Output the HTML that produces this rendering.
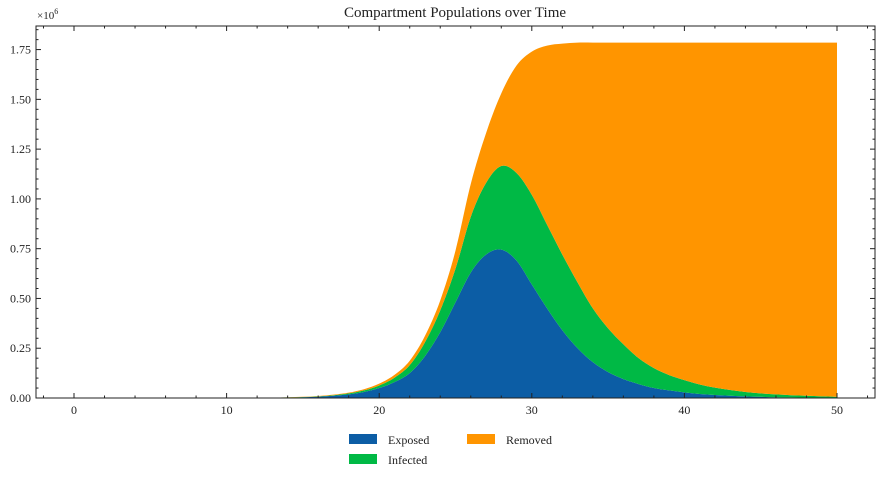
<!DOCTYPE html>
<html><head><meta charset="utf-8"><style>
body{margin:0;background:#fff}
svg text{font-family:"Liberation Serif",serif;fill:#222}
</style></head><body>
<svg id="c" width="880" height="477" xmlns="http://www.w3.org/2000/svg"></svg>
<script>
const times=[];for(let t=0;t<=50;t++)times.push(t);
const exposed=[0,0,0,0,0,0,0,0,0,0,0,0,0,0.001,0.002,0.004,0.006,0.011,0.018,0.03,0.05,0.08,0.125,0.21,0.33,0.48,0.63,0.72,0.745,0.69,0.57,0.45,0.34,0.25,0.18,0.13,0.095,0.07,0.05,0.038,0.028,0.02,0.015,0.011,0.008,0.006,0.004,0.003,0.002,0.0015,0.001];
const infected=[0,0,0,0,0,0,0,0,0,0,0,0,0,0.0005,0.001,0.001,0.002,0.003,0.005,0.008,0.013,0.022,0.04,0.07,0.11,0.17,0.28,0.36,0.42,0.44,0.45,0.42,0.38,0.33,0.27,0.22,0.175,0.13,0.1,0.077,0.062,0.048,0.037,0.029,0.022,0.017,0.014,0.011,0.009,0.0065,0.005];
const removed=[0,0,0,0,0,0,0,0,0,0,0,0,0,0.0005,0.001,0.001,0.002,0.003,0.004,0.006,0.009,0.014,0.022,0.032,0.05,0.09,0.165,0.25,0.365,0.54,0.72,0.9,1.06,1.205,1.335,1.435,1.515,1.585,1.635,1.67,1.695,1.717,1.733,1.745,1.755,1.762,1.767,1.771,1.774,1.777,1.779];
const xTicks=[0,10,20,30,40,50];
const yTicks=[0,0.25,0.5,0.75,1.0,1.25,1.5,1.75];
const L=36,R=875,T=26,B=398;
const xs=v=>74+v*15.26, ys=v=>398-v*199.1;
const svg=document.getElementById('c');const NS='http://www.w3.org/2000/svg';
function mk(tag,a,p){const e=document.createElementNS(NS,tag);for(const k in a)e.setAttribute(k,a[k]);(p||svg).appendChild(e);return e;}
function smooth(pts){let d='';for(let i=0;i<pts.length-1;i++){const p0=pts[Math.max(i-1,0)],p1=pts[i],p2=pts[i+1],p3=pts[Math.min(i+2,pts.length-1)];
 const c1=[p1[0]+(p2[0]-p0[0])/6,p1[1]+(p2[1]-p0[1])/6],c2=[p2[0]-(p3[0]-p1[0])/6,p2[1]-(p3[1]-p1[1])/6];
 d+='C'+c1.join(',')+' '+c2.join(',')+' '+p2.join(',');}return d;}
const series=[exposed,infected,removed],cols=['#0c5da5','#00b945','#ff9500'],names=['area-exposed','area-infected','area-removed'];
let base=times.map(()=>0);
series.forEach((s,i)=>{const top=base.map((b,j)=>b+s[j]);
 const tp=times.map((t,j)=>[xs(t),ys(top[j])]);
 const bp=times.map((t,j)=>[xs(t),ys(base[j])]).reverse();
 const d='M'+tp[0].join(',')+smooth(tp)+'L'+bp[0].join(',')+smooth(bp)+'Z';
 const p=mk('path',{d:d,fill:cols[i]});
 
 
 base=top;});
mk('rect',{x:L,y:T,width:R-L,height:B-T,fill:'none',stroke:'#222','stroke-width':1,});
for(let v=-2;v<=52;v+=2){const x=xs(v);if(x<L||x>R)continue;const len=v%10==0?5:2.5;
 mk('line',{x1:x,x2:x,y1:B,y2:B-len,stroke:'#222'});mk('line',{x1:x,x2:x,y1:T,y2:T+len,stroke:'#222'});}
for(let v=0;v<=1.86;v+=0.05){const y=ys(v);const len=Math.abs(v/0.25-Math.round(v/0.25))<0.01?5:2.5;
 mk('line',{x1:L,x2:L+len,y1:y,y2:y,stroke:'#222'});mk('line',{x1:R,x2:R-len,y1:y,y2:y,stroke:'#222'});}
xTicks.forEach(v=>{const t=mk('text',{x:xs(v),y:414,'text-anchor':'middle','font-size':12});t.textContent=v;
 
 });
yTicks.forEach(v=>{const t=mk('text',{x:31,y:ys(v)+4,'text-anchor':'end','font-size':12});t.textContent=v.toFixed(2);
 
 });
</script>
<svg width="880" height="477" style="position:absolute;left:0;top:0" xmlns="http://www.w3.org/2000/svg">
<text x="455" y="17" text-anchor="middle" font-size="15">Compartment Populations over Time</text>
<text x="37" y="19" font-size="11">×10<tspan font-size="8" dy="-5">6</tspan></text>
<g>
<rect x="349" y="434" width="28" height="10" fill="#0c5da5"/>
<text x="388" y="444" font-size="12">Exposed</text>
<rect x="349" y="454" width="28" height="10" fill="#00b945"/>
<text x="388" y="464" font-size="12">Infected</text>
<rect x="467" y="434" width="28" height="10" fill="#ff9500"/>
<text x="506" y="444" font-size="12">Removed</text>
</g>
</svg>
</body></html>
